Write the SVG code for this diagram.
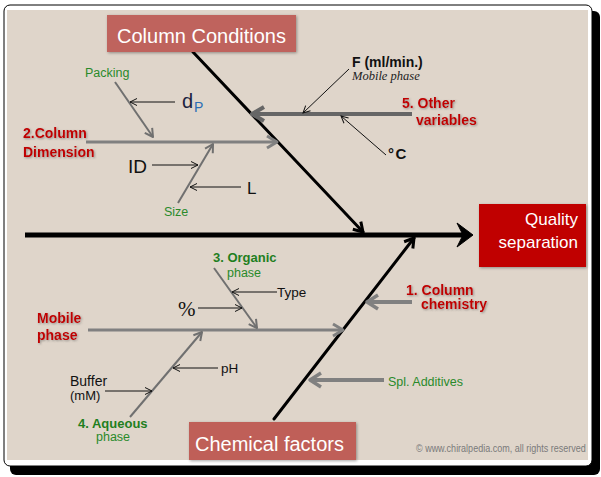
<svg xmlns="http://www.w3.org/2000/svg" width="601" height="477" viewBox="0 0 601 477">
<style>
  text{font-family:"Liberation Sans",Arial,sans-serif;}
  .hdr{fill:#fff;font-size:20px;}
  .red{fill:#c00000;font-weight:bold;font-size:14px;filter:url(#glow);}
  .grn{fill:#2a8a2a;font-size:12.5px;}
  .grnb{fill:#1f7f1f;font-weight:bold;font-size:13px;}
  .blk{fill:#111;}
  .thin{stroke:#111;stroke-width:1;fill:none;marker-end:url(#mThin);}
  .g2{stroke:#707070;stroke-width:2;fill:none;marker-end:url(#mG2);}
  .g3{stroke:#808080;stroke-width:3;fill:none;marker-end:url(#mG3);}
  .g4{stroke:#808080;stroke-width:4;fill:none;marker-end:url(#mG4);}
  .d4{stroke:#666;stroke-width:4;fill:none;marker-end:url(#mD4);}
  .bk3{stroke:#000;stroke-width:3;fill:none;marker-end:url(#mBk);stroke-linecap:round;}
</style>
<defs>
  <filter id="glow" x="-20%" y="-40%" width="140%" height="180%">
    <feGaussianBlur in="SourceAlpha" stdDeviation="1.2" result="b"/>
    <feOffset dx="1" dy="1" in="b" result="o"/>
    <feFlood flood-color="#555" flood-opacity="0.55"/>
    <feComposite in2="o" operator="in" result="s"/>
    <feMerge><feMergeNode in="s"/><feMergeNode in="SourceGraphic"/></feMerge>
  </filter>
  <filter id="boxsh" x="-10%" y="-20%" width="120%" height="140%">
    <feGaussianBlur in="SourceAlpha" stdDeviation="1.5" result="b"/>
    <feOffset dx="1" dy="1" in="b" result="o"/>
    <feFlood flood-color="#000" flood-opacity="0.35"/>
    <feComposite in2="o" operator="in" result="s"/>
    <feMerge><feMergeNode in="s"/><feMergeNode in="SourceGraphic"/></feMerge>
  </filter>
  <marker id="mThin" markerUnits="userSpaceOnUse" orient="auto" overflow="visible" markerWidth="10" markerHeight="10">
    <path d="M-7,-3.5 L0,0 L-7,3.5" fill="none" stroke="#111" stroke-width="1"/>
  </marker>
  <marker id="mG2" markerUnits="userSpaceOnUse" orient="auto" overflow="visible" markerWidth="10" markerHeight="10">
    <path d="M-8,-4.5 L0,0 L-8,4.5" fill="none" stroke="#707070" stroke-width="2" stroke-linejoin="round"/>
  </marker>
  <marker id="mG3" markerUnits="userSpaceOnUse" orient="auto" overflow="visible" markerWidth="10" markerHeight="10">
    <path d="M-10,-6 L0,0 L-10,6" fill="none" stroke="#808080" stroke-width="3" stroke-linejoin="round"/>
  </marker>
  <marker id="mG4" markerUnits="userSpaceOnUse" orient="auto" overflow="visible" markerWidth="10" markerHeight="10">
    <path d="M-11,-7 L0,0 L-11,7" fill="none" stroke="#808080" stroke-width="3.5" stroke-linejoin="round"/>
  </marker>
  <marker id="mD4" markerUnits="userSpaceOnUse" orient="auto" overflow="visible" markerWidth="10" markerHeight="10">
    <path d="M-12,-7 L0,0 L-12,7" fill="none" stroke="#666" stroke-width="4" stroke-linejoin="round"/>
  </marker>
  <marker id="mBk" markerUnits="userSpaceOnUse" orient="auto" overflow="visible" markerWidth="10" markerHeight="10">
    <path d="M-9,-5.5 L0,0 L-9,5.5" fill="none" stroke="#000" stroke-width="3" stroke-linejoin="round"/>
  </marker>
</defs>

<!-- frame -->
<rect x="10" y="11" width="590" height="464" rx="6" fill="#000"/>
<rect x="4" y="5" width="588" height="461" rx="6" fill="#fff" stroke="#000" stroke-width="1"/>
<rect x="7" y="10" width="581" height="450" fill="#dfd5ca"/>

<g id="connectors">
  <!-- spine -->
  <line x1="25" y1="235" x2="464" y2="235" stroke="#000" stroke-width="5"/>
  <path d="M473,235 L457,223 L463,235 L457,247 Z" fill="#000" stroke="#000" stroke-width="1" stroke-linejoin="round"/>
  <!-- main bones -->
  <line class="bk3" x1="193" y1="52" x2="363" y2="232"/>
  <line class="bk3" x1="274" y1="419" x2="414" y2="238"/>
  <!-- column dimension -->
  <line class="g3" x1="86" y1="142" x2="277" y2="142"/>
  <line class="g2" x1="115" y1="82" x2="153" y2="137"/>
  <line class="g2" x1="178" y1="203" x2="213" y2="144"/>
  <line class="thin" x1="175" y1="102" x2="130" y2="102"/>
  <line class="thin" x1="152" y1="165" x2="198" y2="165"/>
  <line class="thin" x1="241" y1="187" x2="190" y2="187"/>
  <!-- other variables -->
  <line class="d4" x1="412" y1="114" x2="252" y2="114"/>
  <line class="thin" x1="349" y1="69" x2="303" y2="113"/>
  <line class="thin" x1="386" y1="155" x2="341" y2="116"/>
  <!-- mobile phase -->
  <line class="g3" x1="88" y1="330" x2="343" y2="330"/>
  <line class="g2" x1="214" y1="268" x2="257" y2="328"/>
  <line class="thin" x1="277" y1="292" x2="232" y2="292"/>
  <line class="thin" x1="198" y1="308" x2="242" y2="308"/>
  <line class="g2" x1="130" y1="417" x2="202" y2="332"/>
  <line class="thin" x1="218" y1="368" x2="173" y2="368"/>
  <line class="thin" x1="105" y1="391" x2="152" y2="391"/>
  <!-- column chemistry / additives -->
  <line class="g4" x1="412" y1="302" x2="367" y2="302"/>
  <line class="g4" x1="384" y1="380" x2="310" y2="380"/>
</g>

<g id="column-conditions">
  <rect x="107" y="15" width="189" height="37" fill="#bf635d" filter="url(#boxsh)"/>
  <text class="hdr" x="117" y="43">Column Conditions</text>
</g>
<g id="chemical-factors">
  <rect x="189" y="422" width="167" height="38" fill="#bf5f59" filter="url(#boxsh)"/>
  <text class="hdr" x="195" y="451">Chemical factors</text>
</g>
<g id="quality-separation">
  <rect x="479" y="204" width="107" height="63" fill="#c00000" filter="url(#boxsh)"/>
  <text x="578" y="225" fill="#fff" font-size="17" text-anchor="end">Quality</text>
  <text x="578" y="248" fill="#fff" font-size="17" text-anchor="end">separation</text>
</g>

<g id="column-dimension">
  <text class="red" x="23" y="138">2.Column</text>
  <text class="red" x="23" y="157">Dimension</text>
</g>
<g id="packing"><text class="grn" x="85" y="77">Packing</text></g>
<g id="dp">
  <text x="182" y="108" font-size="20" fill="#1c2440">d</text>
  <text x="194" y="112" font-size="14" fill="#2a6db5">P</text>
</g>
<g id="id"><text class="blk" x="128" y="173" font-size="19">ID</text></g>
<g id="l"><text class="blk" x="247" y="194" font-size="17">L</text></g>
<g id="size"><text class="grn" x="164" y="216">Size</text></g>

<g id="flow">
  <text class="blk" x="352" y="67" font-size="14" font-weight="bold">F (ml/min.)</text>
  <text x="352" y="80" font-size="12.5" font-style="italic" fill="#222" style="font-family:'Liberation Serif','Times New Roman',serif">Mobile phase</text>
</g>
<g id="other-variables">
  <text class="red" x="402" y="108">5. Other</text>
  <text class="red" x="416" y="125">variables</text>
</g>
<g id="temperature"><text class="blk" x="388" y="159" font-size="15" font-weight="bold" letter-spacing="1.5">°C</text></g>

<g id="mobile-phase">
  <text class="red" x="37" y="323">Mobile</text>
  <text class="red" x="37" y="340">phase</text>
</g>
<g id="organic-phase">
  <text class="grnb" x="213" y="262">3. Organic</text>
  <text class="grn" x="227" y="277">phase</text>
</g>
<g id="type"><text class="blk" x="277" y="297" font-size="13.5">Type</text></g>
<g id="percent"><text class="blk" x="178" y="316" font-size="21" style="font-family:'Liberation Serif','Times New Roman',serif">%</text></g>
<g id="ph"><text class="blk" x="221" y="373" font-size="13.5">pH</text></g>
<g id="buffer">
  <text class="blk" x="70" y="386" font-size="14">Buffer</text>
  <text class="blk" x="70" y="400" font-size="13">(mM)</text>
</g>
<g id="aqueous-phase">
  <text class="grnb" x="78" y="428">4. Aqueous</text>
  <text class="grn" x="96" y="441" font-size="12">phase</text>
</g>
<g id="column-chemistry">
  <text class="red" x="406" y="295">1. Column</text>
  <text class="red" x="421" y="309">chemistry</text>
</g>
<g id="additives"><text class="grn" x="388" y="386" font-size="13.5">Spl. Additives</text></g>

<text transform="translate(416,452) scale(1,1.2)" font-size="9" fill="#7a7a7a">© www.chiralpedia.com, all rights reserved</text>
</svg>
